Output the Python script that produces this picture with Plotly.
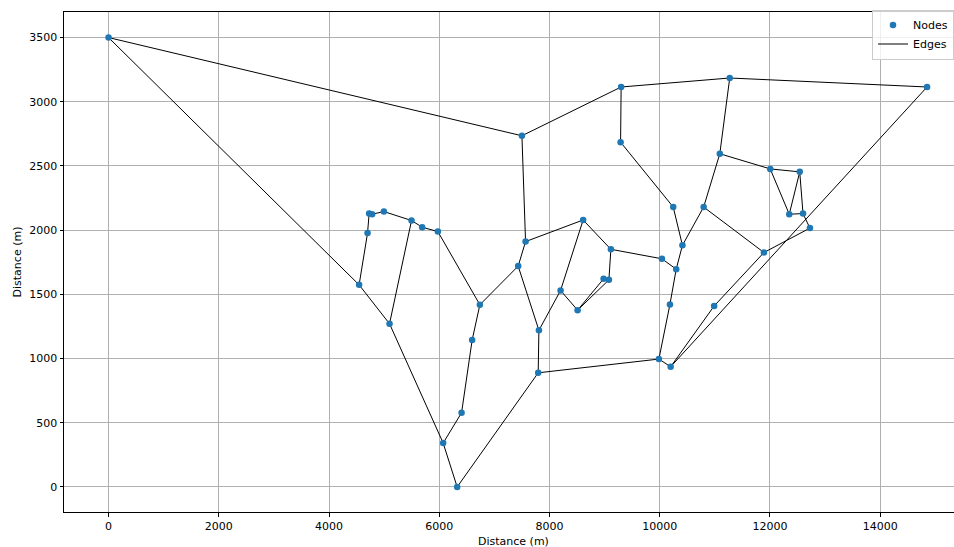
import plotly.graph_objects as go

# Node coordinates (m)
node_x = [0, 7500, 9300, 11270, 14850, 9290, 11090, 12005, 12540, 12350,
          12600, 12725, 10245, 10797, 10412, 11891, 10040, 10299, 10185, 10987,
          9985, 10198, 9114, 8610, 7566, 7432, 8982, 9078, 8510, 8201,
          7808, 7795, 6737, 6597, 6405, 6071, 6325, 5098, 4546, 4699,
          4728, 4782, 4995, 5497, 5690, 5975]
node_y = [3500, 2735, 3115, 3185, 3115, 2685, 2595, 2477, 2454, 2124,
          2129, 2016, 2180, 2180, 1882, 1826, 1777, 1696, 1421, 1409,
          996, 936, 1851, 2079, 1911, 1720, 1621, 1613, 1377, 1530,
          1220, 889, 1419, 1144, 578, 342, 0, 1271, 1574, 1977,
          2129, 2124, 2145, 2075, 2023, 1989]

# Edges as node index pairs
edge_from = [0, 0, 38, 37, 38, 39, 40, 41, 42, 43, 44, 43, 45, 32, 32, 33, 34, 35,
             36, 31, 31, 30, 30, 25, 24, 24, 23, 23, 22, 22, 29, 28, 28, 16, 17,
             17, 18, 20, 21, 21, 19, 15, 15, 13, 13, 6, 6, 7, 7, 8, 8, 9, 10,
             12, 12, 5, 1, 2, 3]
edge_to = [1, 38, 37, 35, 39, 40, 41, 42, 43, 44, 45, 37, 32, 25, 33, 34, 35, 36,
           31, 30, 20, 25, 29, 24, 1, 23, 29, 22, 27, 16, 28, 26, 27, 17, 14,
           18, 20, 21, 19, 4, 15, 11, 13, 14, 6, 3, 7, 8, 9, 9, 10, 10, 11,
           14, 5, 2, 2, 3, 4]

x_ticks = list(range(0, 14001, 2000))
y_ticks = list(range(0, 3501, 500))

ex, ey = [], []
for a, b in zip(edge_from, edge_to):
    ex += [node_x[a], node_x[b], None]
    ey += [node_y[a], node_y[b], None]

fig = go.Figure()
fig.add_trace(go.Scatter(x=ex, y=ey, mode="lines", name="Edges",
                         line=dict(color="black", width=1), legendrank=2,
                         hoverinfo="skip"))
fig.add_trace(go.Scatter(x=node_x, y=node_y, mode="markers", name="Nodes",
                         marker=dict(color="#1f77b4", size=6.5), legendrank=1))

font = dict(family="DejaVu Sans", size=11, color="black")
fig.update_layout(
    width=954, height=547,
    margin=dict(l=64, r=0, t=12, b=35),
    plot_bgcolor="white", paper_bgcolor="white",
    font=font,
    showlegend=True,
    legend=dict(x=1.0, y=1.005, xanchor="right", yanchor="top",
                bgcolor="rgba(255,255,255,0.8)", bordercolor="#cccccc",
                borderwidth=1, font=font, tracegroupgap=0, itemwidth=30),
    annotations=[dict(text="Distance (m)", xref="paper", yref="paper",
                      x=0.5052, y=-0.0588, xanchor="center", yanchor="middle",
                      showarrow=False, font=font)],
)
fig.update_xaxes(
    range=[-808, 15339], tickvals=x_ticks, ticktext=[str(v) for v in x_ticks],
    showgrid=True, gridcolor="#b0b0b0", gridwidth=0.8, zeroline=False,
    showline=True, linecolor="black", linewidth=1, mirror=True,
    ticks="outside", ticklen=3.5, tickwidth=0.8, tickcolor="black",
    automargin=False,
)
fig.update_yaxes(
    range=[-195, 3699], tickvals=y_ticks, ticktext=[str(v) for v in y_ticks],
    showgrid=True, gridcolor="#b0b0b0", gridwidth=0.8, zeroline=False,
    showline=True, linecolor="black", linewidth=1, mirror=False,
    ticks="outside", ticklen=3.5, tickwidth=0.8, tickcolor="black",
    title=dict(text="Distance (m)", standoff=5, font=font), automargin=False,
)
fig.write_html("out.html")
